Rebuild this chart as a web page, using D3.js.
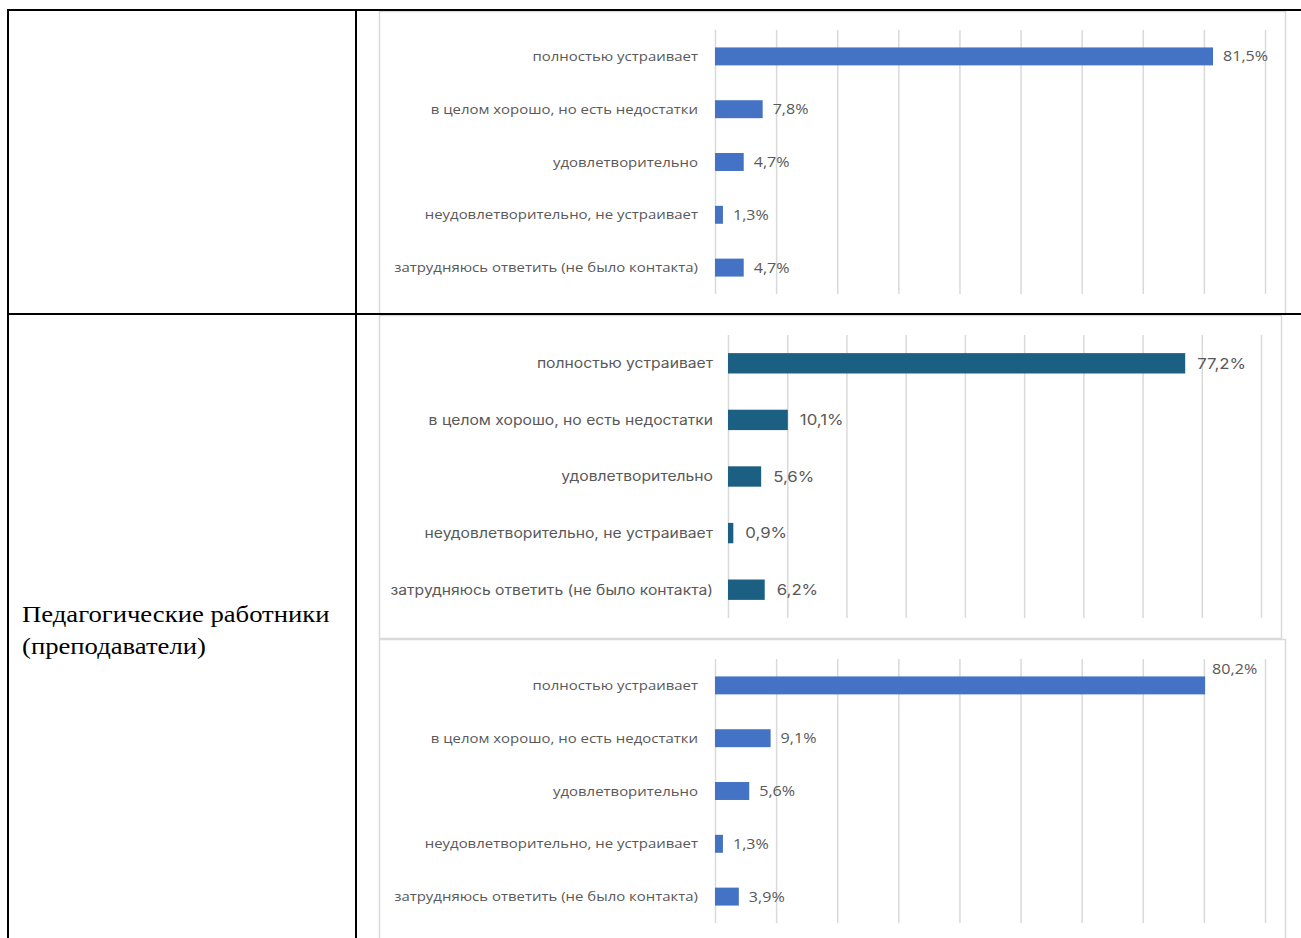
<!DOCTYPE html>
<html><head><meta charset="utf-8">
<script src="https://cdn.jsdelivr.net/npm/d3@7"></script>
<style>
html,body{margin:0;padding:0;background:#fff;}
svg{display:block;}
</style></head>
<body>
<svg id="c" width="1301" height="938"></svg>
<script>
const categories = [
  "полностью устраивает",
  "в целом хорошо, но есть недостатки",
  "удовлетворительно",
  "неудовлетворительно, не устраивает",
  "затрудняюсь ответить (не было контакта)"
];
const valuesTop = [81.5, 7.8, 4.7, 1.3, 4.7];
const valuesMiddle = [77.2, 10.1, 5.6, 0.9, 6.2];
const valuesBottom = [80.2, 9.1, 5.6, 1.3, 3.9];
const gridTicks = [0, 10, 20, 30, 40, 50, 60, 70, 80, 90];
const rowLabel = ["Педагогические работники", "(преподаватели)"];

const svg = d3.select("#c");
svg.append("rect").attr("width",1301).attr("height",938).attr("fill","#fff");

function fmt(v){ return d3.format(".1f")(v).replace(".", ",") + "%"; }

function drawChart(cfg){
  const g = svg.append("g");
  g.append("rect").attr("x",cfg.frame[0]+0.5).attr("y",cfg.frame[1]+0.5)
    .attr("width",cfg.frame[2]-cfg.frame[0]).attr("height",cfg.frame[3]-cfg.frame[1])
    .attr("fill","#fff").attr("stroke","#d9d9d9").attr("stroke-width",1.5);
  const x = d3.scaleLinear().domain([0,90]).range([cfg.x0,cfg.x1]);
  const y = d3.scaleBand().domain(categories).range([cfg.y0,cfg.y1]).paddingInner(cfg.pad).paddingOuter(cfg.pad/2);
  const ax = g.append("g").attr("transform",`translate(0,${cfg.y1})`)
    .call(d3.axisBottom(x).tickValues(gridTicks).tickSize(-(cfg.y1-cfg.y0)).tickFormat(""));
  ax.select(".domain").remove();
  ax.selectAll(".tick line").attr("stroke","#d9d9d9").attr("stroke-width",1.5);
  g.selectAll("text.cat").data(categories).join("text").attr("class","cat")
    .attr("transform",d=>`translate(${cfg.labelX},${y(d)+y.bandwidth()/2}) scale(${cfg.sx},1)`)
    .attr("dy","0.35em")
    .attr("text-anchor","end").attr("fill","#595959")
    .style("font-family",cfg.font).style("font-size",cfg.fs+"px")
    .text(d=>d);
  g.selectAll("rect.bar").data(cfg.values).join("rect").attr("class","bar")
    .attr("x",x(0)).attr("y",(d,i)=>y(categories[i]))
    .attr("width",d=>x(d)-x(0)).attr("height",y.bandwidth())
    .attr("fill",cfg.color);
  g.selectAll("text.val").data(cfg.values).join("text").attr("class","val")
    .attr("transform",(d,i)=>{
      const tx = x(d)+(cfg.above===i?7:cfg.valOff);
      const ty = cfg.above===i ? y(categories[i])-2 : y(categories[i])+y.bandwidth()/2;
      return `translate(${tx},${ty}) scale(${cfg.sx},1)`;
    })
    .attr("dy",(d,i)=> cfg.above===i ? "0" : "0.35em")
    .attr("fill","#595959")
    .style("font-family",cfg.font).style("font-size",cfg.vfs+"px")
    .text(d=>fmt(d));
}

drawChart({frame:[379,11,1285,314], x0:715, x1:1265, y0:30, y1:294, pad:0.66,
  labelX:698, font:"'Open Sans', sans-serif", fs:13, vfs:14, sx:1.15, valOff:10,
  color:"#4472c4", values:valuesTop, above:-1});
drawChart({frame:[379,315,1281,638], x0:728, x1:1261, y0:335, y1:618, pad:0.64,
  labelX:713, font:"Inter, sans-serif", fs:14, vfs:15, sx:1.12, valOff:12,
  color:"#1b5f82", values:valuesMiddle, above:-1});
drawChart({frame:[379,639,1285,950], x0:715, x1:1265, y0:659, y1:923, pad:0.66,
  labelX:698, font:"'Open Sans', sans-serif", fs:13, vfs:14, sx:1.15, valOff:10,
  color:"#4472c4", values:valuesBottom, above:0});

const tbl = svg.append("g").attr("stroke","#000").attr("stroke-width",2);
tbl.append("line").attr("x1",7).attr("x2",1301).attr("y1",10).attr("y2",10);
tbl.append("line").attr("x1",7).attr("x2",1301).attr("y1",314).attr("y2",314);
tbl.append("line").attr("x1",8).attr("x2",8).attr("y1",9).attr("y2",938);
tbl.append("line").attr("x1",356).attr("x2",356).attr("y1",9).attr("y2",938);

svg.append("g").selectAll("text").data(rowLabel).join("text")
  .attr("transform",(d,i)=>`translate(22,${622+i*32}) scale(1.16,1)`)
  .style("font-family","'Liberation Serif', 'Times New Roman', serif").style("font-size","23px")
  .attr("fill","#000").text(d=>d);
</script>
</body></html>
